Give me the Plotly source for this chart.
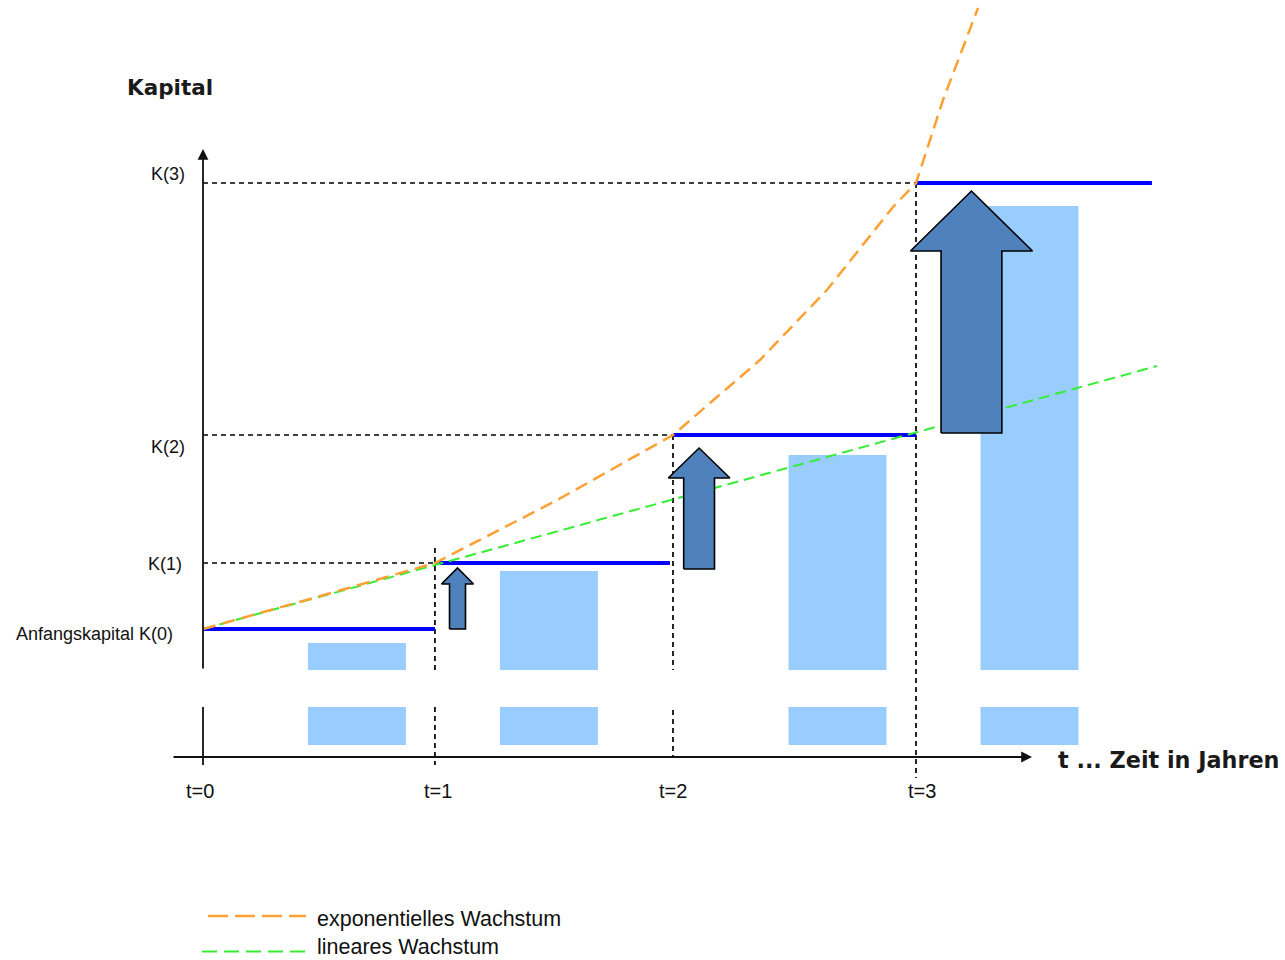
import plotly.graph_objects as go

# ---------------- data (x: years on the time axis, y: capital in diagram units) ----------------
t_labels = ["t=0", "t=1", "t=2", "t=3"]
t_pos = [0.0, 0.987, 2.0, 3.034]

k_labels = ["Anfangskapital K(0)", "K(1)", "K(2)", "K(3)"]
k_vals = [128, 194, 322, 574]
k1_level_end = 1.987
k3_level_end = 4.038

# exponential growth
exp_x = [0.0, 0.5, 0.987, 1.5, 2.0, 2.370, 2.655, 2.936, 3.034, 3.149, 3.298]
exp_y = [128, 161, 194, 256, 322, 397, 467, 550, 574, 657, 749]

# linear growth
lin_x = [0.0, 4.06]
lin_y = [128, 391]

# light-blue bars (broken axis: upper part and lower stub)
bar_x = [0.655, 1.472, 2.700, 3.517]
bar_top = [114, 186, 302, 551]
break_low = 50
break_high = 87
stub_bottom = 12

# interest arrows: centre on time axis, base and tip in capital units
arrow_x = [1.083, 2.111, 3.270]
arrow_base = [128, 188, 324]
arrow_tip = [189, 309, 566]

# ---------------- geometry / styling ----------------
PX_PER_YEAR = 235.0
X0_PX = 203.0
Y0_PX = 757.0
W, H = 1285, 960

def px2x(p):
    return (p - X0_PX) / PX_PER_YEAR

def py2y(p):
    return Y0_PX - p

def dx(px):
    return px / PX_PER_YEAR

BAR_W = dx(98)
arrow_shaft_half = [8, 15.4, 30.4]
arrow_head_half = [16, 30.8, 61]
arrow_head_len = [16, 30, 60]

BLUE = "#0000ff"
ORANGE = "#ffa035"
GREEN = "#33ee33"
BARC = "#99ccff"
ARROWC = "#4f81bd"
DASHK = "#000000"

fig = go.Figure()

# bars (upper parts and lower stubs)
fig.add_trace(go.Bar(x=bar_x, y=[v - break_high for v in bar_top], base=[break_high] * len(bar_x),
                     width=BAR_W, marker=dict(color=BARC, line=dict(width=0)), hoverinfo="skip"))
fig.add_trace(go.Bar(x=bar_x, y=[break_low - stub_bottom] * len(bar_x), base=[stub_bottom] * len(bar_x),
                     width=BAR_W, marker=dict(color=BARC, line=dict(width=0)), hoverinfo="skip"))

# dashed guide lines
gx, gy = [], []
for i in range(1, 4):
    gx += [0, t_pos[i], None]
    gy += [k_vals[i], k_vals[i], None]
vert_segments = [
    (t_pos[1], 209, break_high), (t_pos[1], break_low, -8),
    (t_pos[2], k_vals[2], break_high), (t_pos[2], 47, -1),
    (t_pos[3], k_vals[3], -21),
]
for x, y1, y2 in vert_segments:
    gx += [x, x, None]
    gy += [y1, y2, None]
fig.add_trace(go.Scatter(x=gx, y=gy, mode="lines", line=dict(color=DASHK, width=1.7, dash="5px,4px"),
                         hoverinfo="skip"))

# capital levels (blue steps)
sx = [t_pos[0], t_pos[1], None, t_pos[1], k1_level_end, None, t_pos[2], t_pos[3], None, t_pos[3], k3_level_end]
sy = [k_vals[0], k_vals[0], None, k_vals[1], k_vals[1], None, k_vals[2], k_vals[2], None, k_vals[3], k_vals[3]]
fig.add_trace(go.Scatter(x=sx, y=sy, mode="lines", line=dict(color=BLUE, width=4), hoverinfo="skip"))

# growth curves
fig.add_trace(go.Scatter(x=lin_x, y=lin_y, mode="lines", line=dict(color=GREEN, width=2, dash="11px,6px"),
                         hoverinfo="skip"))
fig.add_trace(go.Scatter(x=exp_x, y=exp_y, mode="lines", line=dict(color=ORANGE, width=2.5, dash="13px,7px"),
                         hoverinfo="skip"))

# block arrows
for cx, b, t, sh, hh, hl in zip(arrow_x, arrow_base, arrow_tip, arrow_shaft_half, arrow_head_half, arrow_head_len):
    xs = [cx - dx(sh), cx - dx(sh), cx - dx(hh), cx, cx + dx(hh), cx + dx(sh), cx + dx(sh), cx - dx(sh)]
    ys = [b, t - hl, t - hl, t, t - hl, t - hl, b, b]
    fig.add_trace(go.Scatter(x=xs, y=ys, mode="lines", fill="toself", fillcolor=ARROWC,
                             line=dict(color="black", width=1.6), hoverinfo="skip"))

# axes (y axis broken)
fig.add_trace(go.Scatter(x=[0, 0], y=[break_low, -8], mode="lines", line=dict(color="#111111", width=1.8),
                         hoverinfo="skip"))

# legend samples
fig.add_trace(go.Scatter(x=[px2x(208), px2x(306)], y=[py2y(916), py2y(916)], mode="lines",
                         line=dict(color=ORANGE, width=2.5, dash="20px,7px"), hoverinfo="skip"))
fig.add_trace(go.Scatter(x=[px2x(202), px2x(306)], y=[py2y(951.5), py2y(951.5)], mode="lines",
                         line=dict(color=GREEN, width=2, dash="15px,7px"), hoverinfo="skip"))

ann = []
# y axis with arrow
ann.append(dict(x=0, y=py2y(149), ax=0, ay=break_high, xref="x", yref="y", axref="x", ayref="y",
                text="", showarrow=True, arrowhead=2, arrowsize=1.2, arrowwidth=1.8, arrowcolor="#111111",
                standoff=0, startstandoff=0))
# x axis with arrow
ann.append(dict(x=px2x(1032), y=0, ax=px2x(172), ay=0, xref="x", yref="y", axref="x", ayref="y",
                text="", showarrow=True, arrowhead=2, arrowsize=1.2, arrowwidth=1.8, arrowcolor="#111111",
                standoff=0, startstandoff=0))

LAB = dict(family="Liberation Sans, Arial, sans-serif", color="#111111")
# capital labels
k_label_pos = [(175, 634), (184, 563.5), (187, 446.5), (187, 173.5)]
for lab, (rx, cy) in zip(k_labels, k_label_pos):
    ann.append(dict(x=px2x(rx), y=py2y(cy), xref="x", yref="y", text=lab, showarrow=False,
                    xanchor="right", yanchor="middle", font=dict(size=18, **LAB)))
# time labels
t_label_px = [200, 438, 673, 922]
for lab, cx in zip(t_labels, t_label_px):
    ann.append(dict(x=px2x(cx), y=py2y(790.5), xref="x", yref="y", text=lab, showarrow=False,
                    xanchor="center", yanchor="middle", font=dict(size=20, **LAB)))
# titles
TIT = dict(family="DejaVu Sans, sans-serif", color="#1a1a1a")
ann.append(dict(x=px2x(125), y=py2y(87), xref="x", yref="y", text="<b>Kapital</b>", showarrow=False,
                xanchor="left", yanchor="middle", font=dict(size=21.5, **TIT)))
ann.append(dict(x=px2x(1056), y=py2y(760), xref="x", yref="y", text="<b>t ... Zeit in Jahren</b>",
                showarrow=False, xanchor="left", yanchor="middle", font=dict(size=22.3, **TIT)))
# legend texts
ann.append(dict(x=px2x(315), y=py2y(918.5), xref="x", yref="y", text="exponentielles Wachstum", showarrow=False,
                xanchor="left", yanchor="middle", font=dict(size=21.5, **LAB)))
ann.append(dict(x=px2x(315), y=py2y(946.5), xref="x", yref="y", text="lineares Wachstum", showarrow=False,
                xanchor="left", yanchor="middle", font=dict(size=21.5, **LAB)))

fig.update_layout(
    width=W, height=H, margin=dict(l=0, r=0, t=0, b=0),
    paper_bgcolor="white", plot_bgcolor="white", showlegend=False, barmode="overlay",
    xaxis=dict(range=[px2x(0), px2x(W)], visible=False, fixedrange=True),
    yaxis=dict(range=[py2y(H), py2y(0)], visible=False, fixedrange=True),
    annotations=ann,
)

fig.write_html("out.html")
